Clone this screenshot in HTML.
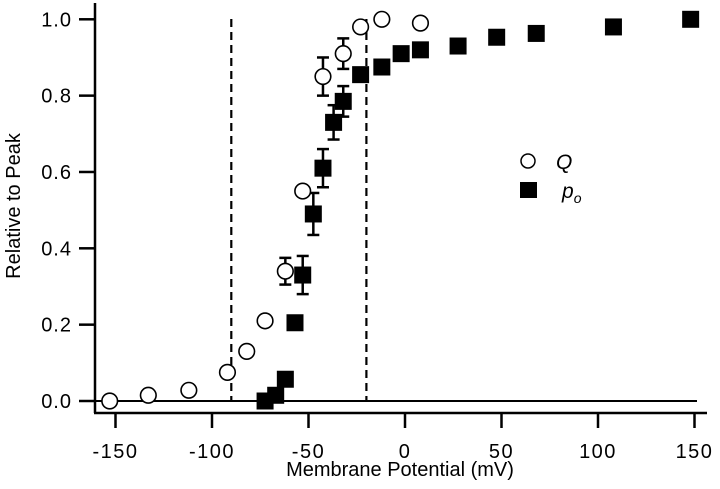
<!DOCTYPE html>
<html><head><meta charset="utf-8"><style>
html,body{margin:0;padding:0;background:#fff;}
svg{display:block;font-family:"Liberation Sans",Arial,sans-serif;}
</style></head><body>
<svg id="chart" width="720" height="489" viewBox="0 0 720 489" xmlns="http://www.w3.org/2000/svg"></svg>
<script>
const qX=[-153,-133,-112,-92,-82,-72.5,-62,-53,-42.5,-32,-23,-12,8];
const qY=[0.0,0.015,0.028,0.075,0.13,0.21,0.34,0.55,0.85,0.91,0.98,1.0,0.99];
const qErr=[0,0,0,0,0,0,0.035,0,0.05,0.04,0,0,0];
const pX=[-72.5,-67,-62,-57,-53,-47.5,-42.5,-37,-32,-23,-12,-2,8,27.5,47.5,68,108,148];
const pY=[0.0,0.015,0.057,0.205,0.33,0.49,0.61,0.73,0.785,0.855,0.875,0.91,0.92,0.93,0.953,0.963,0.98,1.0];
const pErr=[0,0,0,0,0.05,0.055,0.05,0.045,0.04,0,0,0,0,0,0,0,0,0];
const xTicks=[-150,-100,-50,0,50,100,150];
const yTicks=[0.0,0.2,0.4,0.6,0.8,1.0];
const vLines=[-90,-20];
const NS="http://www.w3.org/2000/svg";
const svg=document.getElementById('chart');
const xs=v=>405+v*1.93;
const ys=v=>401-v*381.7;
function el(t,a,p){const e=document.createElementNS(NS,t);for(const k in a)e.setAttribute(k,a[k]);(p||svg).appendChild(e);return e;}
let e;
e=el('line',{x1:95,y1:3,x2:95,y2:413,stroke:'#000','stroke-width':2.5});


e=el('line',{x1:94,y1:413,x2:707,y2:413,stroke:'#000','stroke-width':2.5});


e=el('line',{x1:95,y1:401,x2:697,y2:401,stroke:'#000','stroke-width':2});


xTicks.forEach(v=>{
 e=el('line',{x1:xs(v),y1:413,x2:xs(v),y2:428,stroke:'#000','stroke-width':2.5});
 
 
 e=el('text',{x:xs(v),y:458,'text-anchor':'middle','font-size':20,'letter-spacing':1.5});
 e.textContent=v;
 
 
});
yTicks.forEach(v=>{
 e=el('line',{x1:79,y1:ys(v),x2:95,y2:ys(v),stroke:'#000','stroke-width':2.5});
 
 
 e=el('text',{x:72,y:ys(v)+7,'text-anchor':'end','font-size':20,'letter-spacing':1});
 e.textContent=v.toFixed(1);
 
 
});
vLines.forEach(v=>{
 e=el('line',{x1:xs(v),y1:19,x2:xs(v),y2:401,stroke:'#000','stroke-width':2.2,'stroke-dasharray':'8,5'});
 
 
});
function errBar(x,y,err){
 if(!err)return;
 const g=el('g',{stroke:'#000','stroke-width':2.5});
 
 
 el('line',{x1:xs(x),y1:ys(y+err),x2:xs(x),y2:ys(y-err)},g);
 el('line',{x1:xs(x)-6,y1:ys(y+err),x2:xs(x)+6,y2:ys(y+err)},g);
 el('line',{x1:xs(x)-6,y1:ys(y-err),x2:xs(x)+6,y2:ys(y-err)},g);
}
pX.forEach((x,i)=>errBar(x,pY[i],pErr[i]));
qX.forEach((x,i)=>errBar(x,qY[i],qErr[i]));
pX.forEach((x,i)=>{
 e=el('rect',{x:xs(x)-8.5,y:ys(pY[i])-8.5,width:17,height:17,fill:'#000'});
 
 
});
qX.forEach((x,i)=>{
 e=el('circle',{cx:xs(x),cy:ys(qY[i]),r:7.8,fill:'#fff',stroke:'#000','stroke-width':1.6});
 
 
});
</script>
<svg style="position:absolute;left:0;top:0" width="720" height="489">
 <g font-family="Liberation Sans, Arial, sans-serif">
  <circle cx="528" cy="161" r="7" fill="#fff" stroke="#000" stroke-width="1.5"/>
  <text x="556" y="169" font-size="21" font-style="italic">Q</text>
  <rect x="520" y="182" width="17" height="16" fill="#000"/>
  <text x="562" y="198" font-size="21" font-style="italic">p<tspan font-size="14" dy="5">o</tspan></text>
  <text x="400" y="476" text-anchor="middle" font-size="20">Membrane Potential (mV)</text>
  <text transform="translate(20,206) rotate(-90)" text-anchor="middle" font-size="20">Relative to Peak</text>
 </g>
</svg>
</body></html>
